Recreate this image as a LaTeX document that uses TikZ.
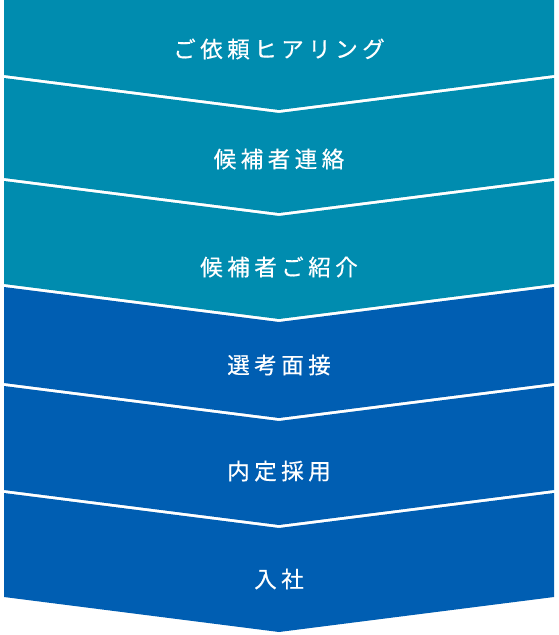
\documentclass[tikz,border=0pt]{standalone}
\usepackage{fontspec}
\newfontfamily\jpfont[LetterSpace=20,FakeBold=0.5]{Noto Sans CJK JP}
\definecolor{tealc}{RGB}{0,140,175}
\definecolor{bluec}{RGB}{0,94,178}
\tikzset{
  lbl/.style={text=white, font=\jpfont\fontsize{22.5}{26}\selectfont, inner sep=0pt, anchor=center},
}
\begin{document}
\begin{tikzpicture}[x=1pt,y=-1pt]
\fill[white] (0,0) rectangle (558,635);
\useasboundingbox (0,0) rectangle (558,635);
% blocks
\fill[tealc] (4,0) -- (554,0) -- (554,75) -- (279,110) -- (4,75) -- cycle;
\fill[tealc] (4,78) -- (279,113) -- (554,78) -- (554,178) -- (279,213) -- (4,178) -- cycle;
\fill[tealc] (4,181) -- (279,216) -- (554,181) -- (554,284) -- (279,319) -- (4,284) -- cycle;
\fill[bluec] (4,287) -- (279,322) -- (554,287) -- (554,383) -- (279,418) -- (4,383) -- cycle;
\fill[bluec] (4,386) -- (279,421) -- (554,386) -- (554,490) -- (279,525) -- (4,490) -- cycle;
\fill[bluec] (4,493) -- (279,528) -- (554,493) -- (554,597) -- (279,632) -- (4,597) -- cycle;
% labels
\node[lbl] (s1) at (279,49) {ご依頼ヒアリング};
\node[lbl] (s2) at (279,159) {候補者連絡};
\node[lbl] (s3) at (279,267) {候補者ご紹介};
\node[lbl] (s4) at (279,365) {選考面接};
\node[lbl] (s5) at (279,471) {内定採用};
\node[lbl] (s6) at (279,579) {入社};
\end{tikzpicture}
\end{document}
